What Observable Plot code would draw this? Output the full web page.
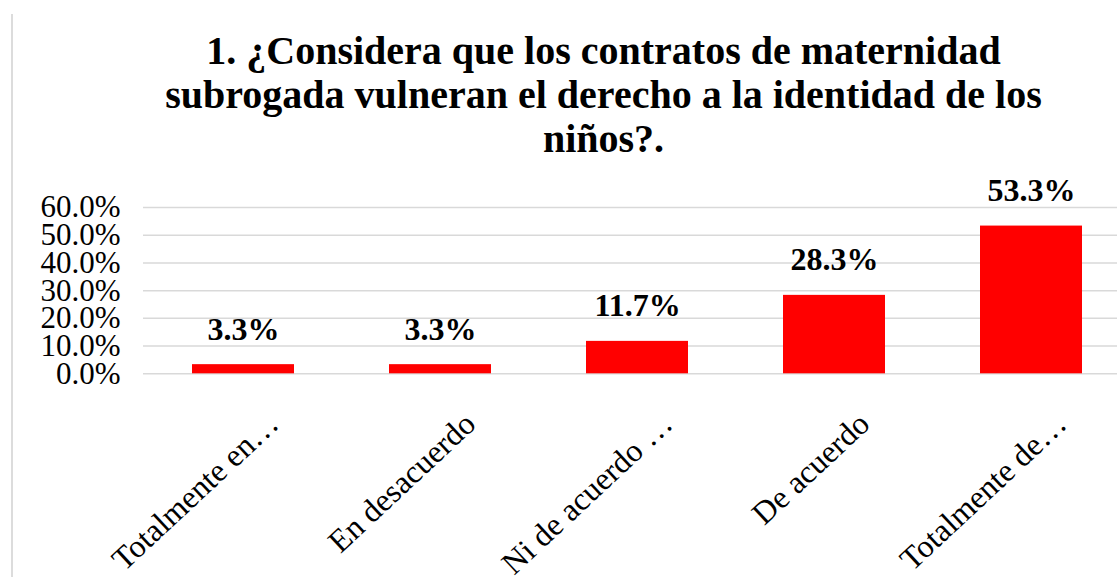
<!DOCTYPE html>
<html>
<head>
<meta charset="utf-8">
<script src="https://cdn.jsdelivr.net/npm/d3@7"></script>
<script src="https://cdn.jsdelivr.net/npm/@observablehq/plot@0.6"></script>
<style>
  body { margin: 0; background: #fff; }
  #wrap { position: relative; width: 1117px; height: 577px; overflow: hidden;
          font-family: "Liberation Serif", "Times New Roman", serif; background: #fff; }
  #edge { position: absolute; left: 11px; top: 14px; bottom: 0; border-left: 2px solid #dcdcdc; }
  #title { position: absolute; left: 90px; width: 1027px; top: 29px; text-align: center;
           font-weight: bold; font-size: 40px; line-height: 44px; color: #000; white-space: nowrap; }
  #chart { position: absolute; left: 0; top: 170px; }
</style>
</head>
<body>
<div id="wrap">
  <div id="edge"></div>
  <div id="title"></div>
  <div id="chart"></div>
</div>
<script>
const titleLines = [
  "1. ¿Considera que los contratos de maternidad",
  "subrogada vulneran el derecho a la identidad de los",
  "niños?."
];
const categories = ["Totalmente en…", "En desacuerdo", "Ni de acuerdo …", "De acuerdo", "Totalmente de…"];
const values = [3.3, 3.3, 11.7, 28.3, 53.3];
const yTicks = [0, 10, 20, 30, 40, 50, 60];

const data = categories.map((c, i) => ({cat: c, value: values[i]}));

const titleEl = document.getElementById("title");
titleLines.forEach(t => {
  const d = document.createElement("div");
  d.textContent = t;
  titleEl.appendChild(d);
});

const fmt = d => d.toFixed(1) + "%";

const chart = Plot.plot({
  width: 1117,
  height: 407,
  marginLeft: 143,
  marginRight: 0,
  marginTop: 37,
  marginBottom: 203.7,
  style: {fontFamily: "'Liberation Serif', 'Times New Roman', serif", background: "transparent", color: "#000"},
  x: {domain: categories, range: [143, 1131], paddingInner: 0.48, paddingOuter: 0.24, label: null},
  y: {domain: [0, 60], label: null},
  marks: [
    Plot.ruleY(yTicks, {stroke: "#d9d9d9", strokeWidth: 1.5}),
    Plot.barY(data, {x: "cat", y: "value", fill: "#ff0000"}),
    Plot.text(data, {x: "cat", y: "value", text: d => fmt(d.value), dy: -25, lineAnchor: "bottom",
                     fontSize: 32, fontWeight: "bold", fill: "#000"}),
    Plot.axisY(yTicks, {tickSize: 0, tickPadding: 23, fontSize: 31, tickFormat: fmt, fill: "#000", label: null}),
    Plot.axisX({tickSize: 0, tickPadding: 0, tickRotate: -43, textAnchor: "end", lineAnchor: "middle",
                dx: 30, dy: 45, fontSize: 32, fill: "#000", label: null})
  ]
});
document.getElementById("chart").appendChild(chart);
</script>
</body>
</html>
